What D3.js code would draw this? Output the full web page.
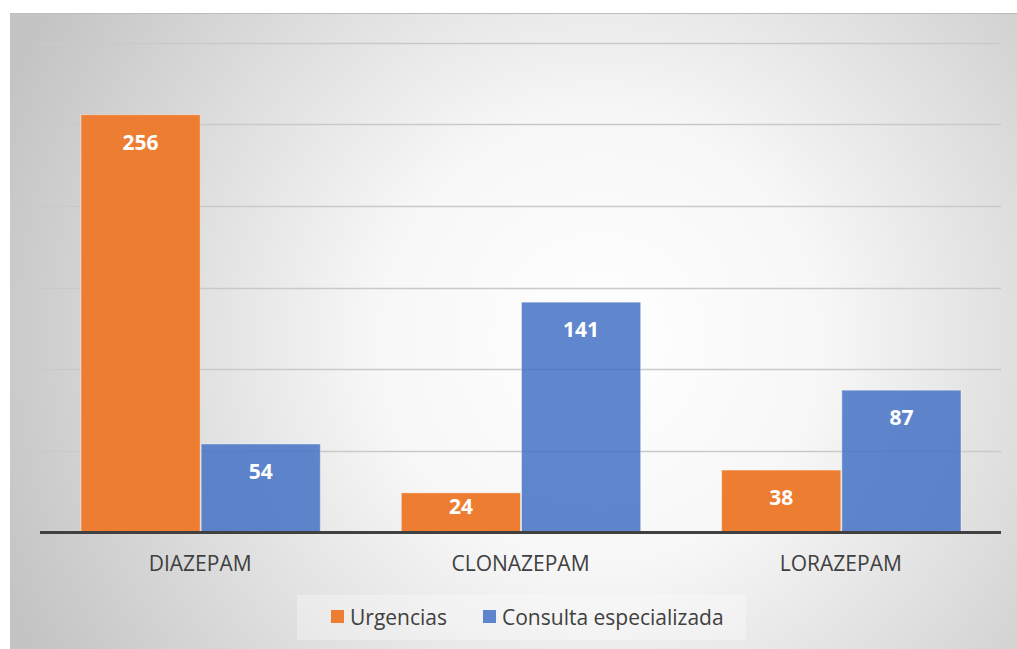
<!DOCTYPE html>
<html>
<head>
<meta charset="utf-8">
<script src="https://cdn.jsdelivr.net/npm/d3@7"></script>
<style>
  body { margin: 0; background: white; }
  svg { display: block; font-family: "Open Sans", "Noto Sans", sans-serif; }
</style>
</head>
<body>
<svg id="chart" width="1017" height="649"></svg>
<script>
var categories = ["DIAZEPAM", "CLONAZEPAM", "LORAZEPAM"];
var seriesNames = ["Urgencias", "Consulta especializada"];
var urgencias = [256, 24, 38];
var consulta = [54, 141, 87];
var yTicks = [0, 50, 100, 150, 200, 250, 300];

var colors = { "Urgencias": "#ED7D31", "Consulta especializada": "#4472C4" };

var svg = d3.select("#chart");

// background with radial gradient
var defs = svg.append("defs");
var grad = defs.append("radialGradient")
  .attr("id", "bg")
  .attr("gradientUnits", "userSpaceOnUse")
  .attr("cx", 600).attr("cy", 340).attr("r", 640);
grad.append("stop").attr("offset", "0%").attr("stop-color", "#ffffff");
grad.append("stop").attr("offset", "35%").attr("stop-color", "#f7f7f7");
grad.append("stop").attr("offset", "100%").attr("stop-color", "#c4c4c4");

svg.append("rect")
  .attr("x", 10).attr("y", 13)
  .attr("width", 1007).attr("height", 636)
  .style("fill", "url(#bg)");
svg.append("line")
  .attr("x1", 10).attr("x2", 1017).attr("y1", 13.5).attr("y2", 13.5)
  .style("stroke", "#bdbdbd");

var x0 = d3.scaleBand()
  .domain(categories)
  .range([40, 1001])
  .paddingInner(0)
  .paddingOuter(0);
var x1 = d3.scaleBand()
  .domain(seriesNames)
  .range([40, x0.bandwidth() - 40])
  .padding(0);
var y = d3.scaleLinear().domain([0, 300]).range([532, 43]);

// gridlines
svg.append("g").selectAll("line")
  .data(yTicks.slice(1))
  .enter().append("line")
  .attr("x1", 40).attr("x2", 1001)
  .attr("y1", function (d) { return Math.round(y(d)) + 0.5; })
  .attr("y2", function (d) { return Math.round(y(d)) + 0.5; })
  .style("stroke", "#c9c9c9")
  .style("stroke-width", 1.5);

var rows = categories.map(function (c, i) {
  return { cat: c, vals: [
    { name: "Urgencias", value: urgencias[i] },
    { name: "Consulta especializada", value: consulta[i] }
  ] };
});

var groups = svg.append("g").selectAll("g")
  .data(rows)
  .enter().append("g")
  .attr("transform", function (d) { return "translate(" + x0(d.cat) + ",0)"; });

groups.selectAll("rect")
  .data(function (d) { return d.vals; })
  .enter().append("rect")
  .attr("x", function (d) { return x1(d.name) + 1; })
  .attr("y", function (d) { return y(d.value); })
  .attr("width", x1.bandwidth() - 1)
  .attr("height", function (d) { return y(0) - y(d.value); })
  .style("fill", function (d) { return colors[d.name]; })
  .style("fill-opacity", function (d) { return d.name == "Urgencias" ? 1 : 0.85; })
  .style("stroke", "#ffffff")
  .style("stroke-opacity", 0.4)
  .style("stroke-width", 1);

groups.selectAll("text")
  .data(function (d) { return d.vals; })
  .enter().append("text")
  .attr("x", function (d) { return x1(d.name) + x1.bandwidth() / 2 + 0.5; })
  .attr("y", function (d) {
    // short bars: label sits lower, as Excel does
    return (y(0) - y(d.value)) < 60 ? y(0) - 18 : y(d.value) + 35;
  })
  .attr("text-anchor", "middle")
  .style("fill", "white")
  .style("font-weight", "bold")
  .style("font-size", "21px")
  .text(function (d) { return d.value; });

// baseline
svg.append("line")
  .attr("x1", 40).attr("x2", 1001)
  .attr("y1", 532.5).attr("y2", 532.5)
  .style("stroke", "#404040")
  .style("stroke-width", 3);

// category labels
svg.append("g").selectAll("text")
  .data(categories)
  .enter().append("text")
  .attr("x", function (d) { return x0(d) + x0.bandwidth() / 2; })
  .attr("y", 571)
  .attr("text-anchor", "middle")
  .style("fill", "#404040")
  .style("font-size", "21px")
  .text(function (d) { return d; });

// legend
var lg = svg.append("g");
lg.append("rect")
  .attr("x", 297).attr("y", 595)
  .attr("width", 449).attr("height", 45)
  .style("fill", "#ffffff").style("fill-opacity", 0.3);
var legendX = [331, 483];
var items = lg.selectAll("g")
  .data(seriesNames)
  .enter().append("g")
  .attr("transform", function (d, i) { return "translate(" + legendX[i] + ",610)"; });
items.append("rect")
  .attr("width", 13).attr("height", 13)
  .style("fill", function (d) { return colors[d]; })
  .style("fill-opacity", function (d) { return d == "Urgencias" ? 1 : 0.85; });
items.append("text")
  .attr("x", 19).attr("y", 14.5)
  .style("fill", "#404040")
  .style("font-size", "21px")
  .text(function (d) { return d; });
</script>
</body>
</html>
